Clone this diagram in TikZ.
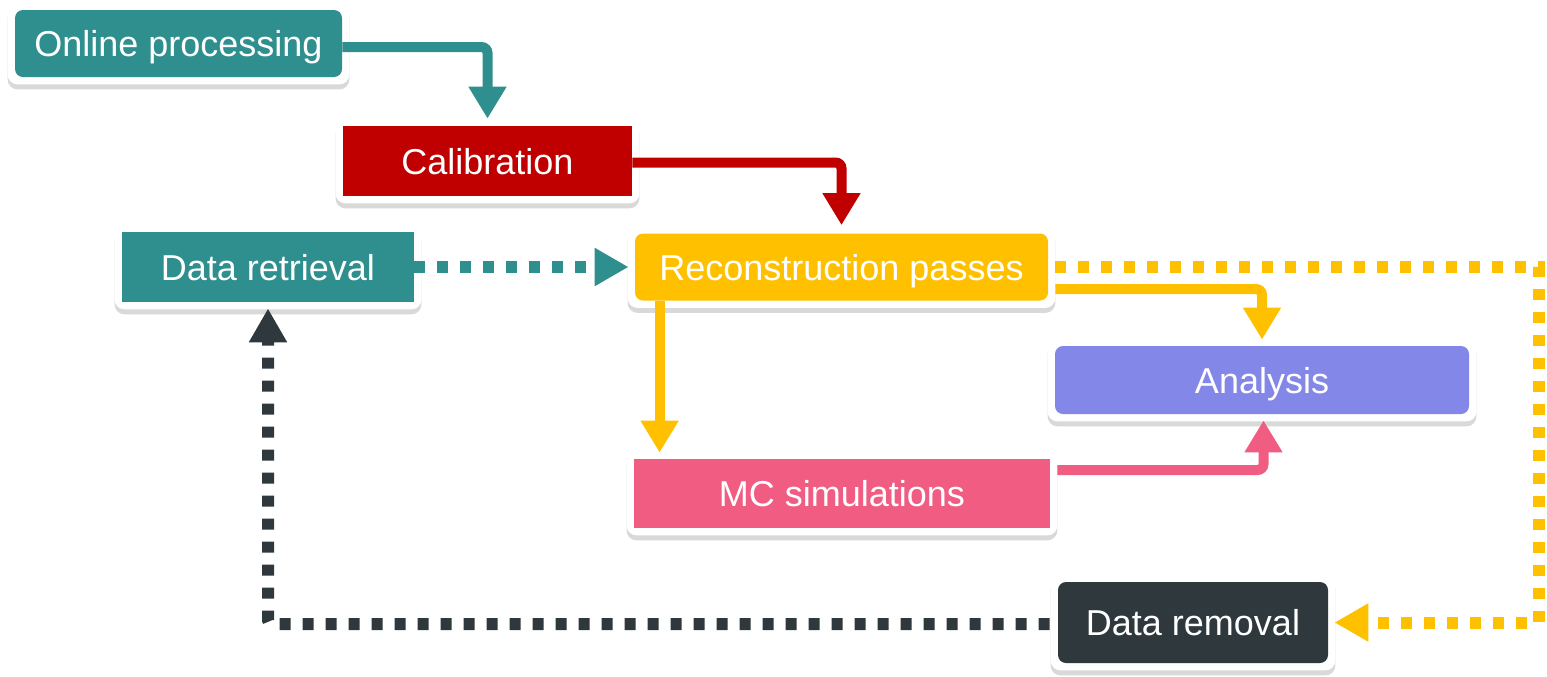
\documentclass[tikz,border=0pt]{standalone}
\usepackage{fontspec}
\setmainfont{Liberation Sans}
\usetikzlibrary{arrows.meta,shadows,calc}
\definecolor{cteal}{HTML}{2E8F8E}
\definecolor{cred}{HTML}{C00000}
\definecolor{cyel}{HTML}{FFC000}
\definecolor{cpur}{HTML}{8387E8}
\definecolor{cpink}{HTML}{F05C82}
\definecolor{cdark}{HTML}{2E383D}
\pgfdeclarelayer{frames}
\pgfdeclarelayer{conn}
\pgfsetlayers{frames,conn,main}
\newcommand\frameit[1]{\fill[frame] ([shift={(-7,-7)}]#1.north west) rectangle ([shift={(7,7)}]#1.south east);}
\tikzset{
  box/.style={rectangle, inner sep=0pt, text=white, font=\fontsize{18}{22}\selectfont,
    text height=13pt, text depth=0pt},
  sz/.style 2 args={minimum width=#1*0.5pt, minimum height=#2*0.5pt},
  rbox/.style={rounded corners=4pt},
  frame/.style={fill=white, rounded corners=5pt,
    drop shadow={shadow xshift=0pt, shadow yshift=-2.5pt, opacity=0.25, fill=black!60}},
  solidarrow/.style={line width=5pt, rounded corners=3pt, -{Triangle[width=18pt,length=16pt]}},
  dotarrow/.style={line width=6pt, dash pattern=on 5.5pt off 6pt, -{Triangle[width=18pt,length=17pt]}},
}
\begin{document}
\begin{tikzpicture}[x=0.5pt, y=-0.5pt]
\useasboundingbox (0,0) rectangle (1547,676);
% nodes
\node[box, rbox, fill=cteal, sz={327}{67}] (online) at (178.5,43.5) {Online processing};
\node[box, fill=cred, sz={289}{70}] (calib) at (487.5,161) {Calibration};
\node[box, fill=cteal, sz={292}{70}] (retrieval) at (268,267) {Data retrieval};
\node[box, rbox, fill=cyel, sz={413}{67}] (recon) at (841.5,267) {Reconstruction passes};
\node[box, rbox, fill=cpur, sz={414}{68}] (analysis) at (1262,380) {Analysis};
\node[box, fill=cpink, sz={416}{69}] (mc) at (842,493.5) {MC simulations};
\node[box, rbox, fill=cdark, sz={270}{81}] (removal) at (1193,622.5) {Data removal};
% frames
\begin{pgfonlayer}{frames}
\frameit{online}
\frameit{calib}
\frameit{retrieval}
\frameit{recon}
\frameit{analysis}
\frameit{mc}
\frameit{removal}
\end{pgfonlayer}
% connectors
\coordinate (rr) at (1539,0);
\coordinate (rm) at ($(recon.south west)+(25,0)$);
\begin{pgfonlayer}{conn}
\draw[solidarrow, cteal] ($(online.east)+(0,3.5)$) -| ($(calib.north)+(0,-7)$);
\draw[solidarrow, cred] ($(calib.east)+(0,1.5)$) -| ($(recon.north)+(0,-8)$);
\draw[dotarrow, cteal] (retrieval.east) -- ($(retrieval.east -| recon.west)+(-6,0)$);
\draw[solidarrow, cyel] ($(recon.east)+(7,22)$) -| ($(analysis.north)+(0,-6)$);
\draw[dotarrow, cyel] ($(recon.east)+(7,0)$) -- (recon.east -| rr) |- ($(removal.east)+(6,0)$);
\draw[solidarrow, cyel] (rm) -- ($(rm |- mc.north)+(0,-6)$);
\draw[solidarrow, cpink] ($(mc.east)+(7,-23.5)$) -| ($(analysis.south)+(1.5,6)$);
\draw[dotarrow, cdark, rounded corners=2pt] ($(removal.west)+(-8,1.5)$) -| ($(retrieval.south)+(0,6)$);
\end{pgfonlayer}
\end{tikzpicture}
\end{document}
